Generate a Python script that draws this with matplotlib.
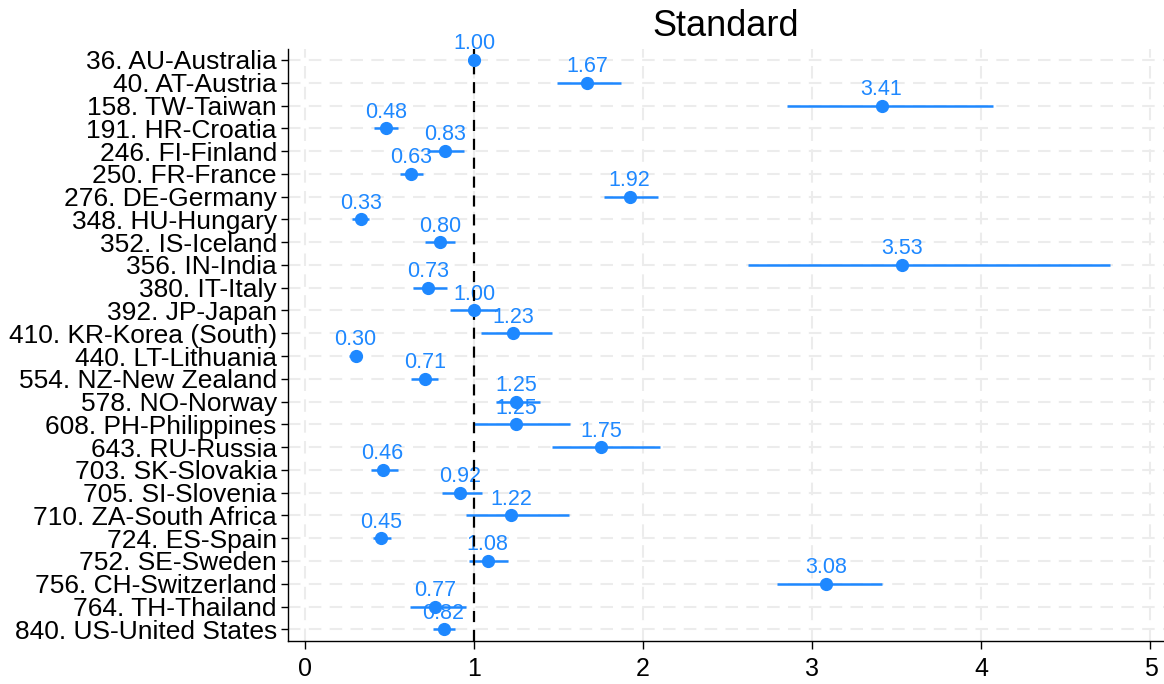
import matplotlib
matplotlib.use("Agg")
import matplotlib.pyplot as plt
import numpy as np

countries = ["36. AU-Australia", "40. AT-Austria", "158. TW-Taiwan", "191. HR-Croatia",
             "246. FI-Finland", "250. FR-France", "276. DE-Germany", "348. HU-Hungary",
             "352. IS-Iceland", "356. IN-India", "380. IT-Italy", "392. JP-Japan",
             "410. KR-Korea (South)", "440. LT-Lithuania", "554. NZ-New Zealand",
             "578. NO-Norway", "608. PH-Philippines", "643. RU-Russia", "703. SK-Slovakia",
             "705. SI-Slovenia", "710. ZA-South Africa", "724. ES-Spain", "752. SE-Sweden",
             "756. CH-Switzerland", "764. TH-Thailand", "840. US-United States"]
estimates = [1.00, 1.67, 3.41, 0.48, 0.83, 0.63, 1.92, 0.33, 0.80, 3.53, 0.73, 1.00,
             1.23, 0.30, 0.71, 1.25, 1.25, 1.75, 0.46, 0.92, 1.22, 0.45, 1.08, 3.08,
             0.77, 0.82]
ci_low = [1.00, 1.49, 2.85, 0.41, 0.72, 0.56, 1.77, 0.28, 0.71, 2.62, 0.64, 0.86,
          1.04, 0.26, 0.63, 1.13, 1.00, 1.46, 0.39, 0.81, 0.95, 0.40, 0.97, 2.79,
          0.62, 0.76]
ci_high = [1.00, 1.87, 4.07, 0.55, 0.94, 0.70, 2.09, 0.38, 0.89, 4.76, 0.84, 1.14,
           1.46, 0.34, 0.79, 1.39, 1.57, 2.10, 0.55, 1.05, 1.56, 0.51, 1.20, 3.41,
           0.95, 0.89]
x_ticks = [0, 1, 2, 3, 4, 5]
title = "Standard"

plt.rcParams['font.family'] = ['Liberation Sans', 'DejaVu Sans']

blue = '#1e88ff'
fig = plt.figure(figsize=(11.64, 6.84), dpi=100)
ax = fig.add_axes([0.2474, 0.0633, 0.7526, 0.8657])

y = np.arange(len(countries))

# grid
for xt in x_ticks:
    ax.axvline(xt, color='#ececec', lw=1.5, dashes=(6, 4), zorder=0)
for yy in y:
    ax.axhline(yy, color='#ececec', lw=1.5, dashes=(6, 4), zorder=0)

ax.hlines(y, ci_low, ci_high, color=blue, lw=1.8, zorder=2)
for yy, v in zip(y, estimates):
    ax.annotate(f"{v:.2f}", (v, yy), xytext=(0, 4), textcoords='offset points',
                ha='center', va='bottom', color=blue, fontsize=15.5, zorder=2.5)
ax.axvline(1, color='black', lw=1.6, dashes=(5, 3.5), zorder=3)
ax.plot(estimates, y, 'o', color=blue, ms=8.5, zorder=4)

ax.set_xlim(-0.1, 5.08)
ax.set_ylim(len(countries) - 0.5, -0.5)
ax.set_yticks(y)
ax.set_yticklabels(countries, fontsize=19)
ax.set_xticks(x_ticks)
ax.set_xticklabels([str(t) for t in x_ticks], fontsize=18)
ax.tick_params(axis='y', length=5, width=1, pad=3)
ax.tick_params(axis='x', length=6, width=1, pad=6)
for s in ['top', 'right']:
    ax.spines[s].set_visible(False)
for s in ['left', 'bottom']:
    ax.spines[s].set_linewidth(1.0)
ax.set_title(title, fontsize=26, pad=9)

fig.savefig("out.png", dpi=100)
